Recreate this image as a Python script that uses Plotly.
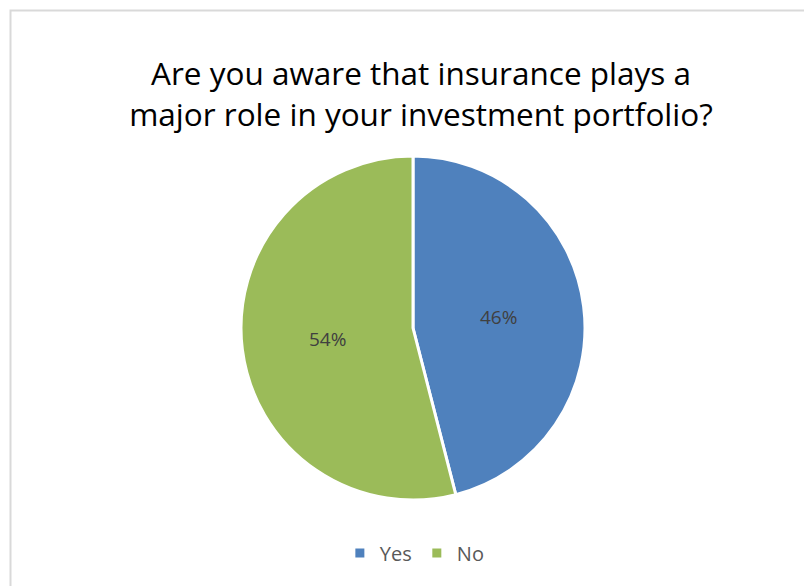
import plotly.graph_objects as go

# Survey responses
answers = ["Yes", "No"]
shares = [46, 54]
slice_colors = ["#4F81BD", "#9BBB59"]
title_lines = ["Are you aware that insurance plays a", "major role in your investment portfolio?"]

W, H = 804, 586
cx, cy, r = 413, 328, 172

fig = go.Figure(
    go.Pie(
        labels=answers,
        values=shares,
        sort=False,
        direction="clockwise",
        rotation=0,
        marker=dict(colors=slice_colors, line=dict(color="white", width=3)),
        textinfo="percent",
        texttemplate="%{percent:.0%}",
        textposition="inside",
        insidetextorientation="horizontal",
        textfont=dict(family="Open Sans", size=19, color="#404040"),
        hoverinfo="label+percent",
        domain=dict(
            x=[(cx - r) / W, (cx + r) / W],
            y=[1 - (cy + r) / H, 1 - (cy - r) / H],
        ),
    )
)

fig.update_layout(
    width=W,
    height=H,
    margin=dict(l=0, r=0, t=0, b=0),
    paper_bgcolor="white",
    title=dict(
        text="<br>".join(title_lines),
        x=421 / W,
        xanchor="center",
        y=1 - 85 / H,
        yanchor="top",
        font=dict(family="Open Sans", size=31.5, color="#000000"),
    ),
    showlegend=True,
    legend=dict(
        orientation="h",
        x=0.516,
        xanchor="center",
        y=1 - 553 / H,
        yanchor="middle",
        font=dict(family="Open Sans", size=20, color="#595959"),
        itemwidth=30,
    ),
    shapes=[
        dict(
            type="rect",
            xref="paper",
            yref="paper",
            x0=10.5 / W,
            x1=1.05,
            y0=-0.05,
            y1=1 - 10.5 / H,
            line=dict(color="#D9D9D9", width=2),
            fillcolor="rgba(0,0,0,0)",
        )
    ],
)

fig.write_html("out.html")
